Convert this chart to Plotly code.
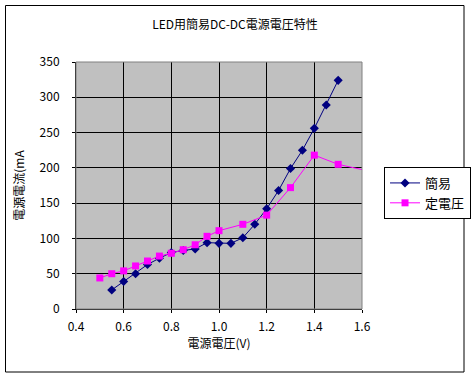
import plotly.graph_objects as go

title_text = "LED用簡易DC-DC電源電圧特性"
x_title = "電源電圧(V)"
y_title = "電源電流(mA"

kan_v = [0.55, 0.6, 0.65, 0.7, 0.75, 0.8, 0.85, 0.9, 0.95, 1.0, 1.05, 1.1, 1.15, 1.2, 1.25, 1.3, 1.35, 1.4, 1.45, 1.5]
kan_ma = [27, 39, 50, 63, 72, 80, 83, 85, 94, 93, 93, 101, 120, 142, 168, 199, 225, 256, 289, 324]

tei_v = [0.5, 0.55, 0.6, 0.65, 0.7, 0.75, 0.8, 0.85, 0.9, 0.95, 1.0, 1.1, 1.2, 1.3, 1.4, 1.5, 1.7]
tei_ma = [44, 50, 54, 61, 68, 75, 79, 84, 91, 103, 111, 120, 133, 172, 218, 205, 190]

FONT = "Noto Sans CJK JP, Liberation Sans, sans-serif"

fig = go.Figure()
fig.add_trace(go.Scatter(
    x=kan_v, y=kan_ma, name="簡易", mode="lines+markers",
    line=dict(color="#000080", width=1),
    marker=dict(symbol="diamond", size=7, color="#000080"),
))
fig.add_trace(go.Scatter(
    x=tei_v, y=tei_ma, name="定電圧", mode="lines+markers",
    line=dict(color="#FF00FF", width=1),
    marker=dict(symbol="square", size=7, color="#FF00FF"),
))

fig.update_layout(
    width=471, height=378,
    margin=dict(l=76, r=109, t=62, b=69, autoexpand=False),
    paper_bgcolor="white",
    plot_bgcolor="#C0C0C0",
    font=dict(family=FONT, size=12, color="black"),
    title=dict(text=title_text, x=235 / 471, xanchor="center",
               y=1 - 25 / 378, yanchor="middle", font=dict(size=12)),
    legend=dict(x=1.077, y=0.575, xanchor="left", yanchor="top",
                bordercolor="black", borderwidth=1, bgcolor="white",
                font=dict(size=13), tracegroupgap=0, itemwidth=30),
    showlegend=True,
)
fig.update_xaxes(
    range=[0.4, 1.6], dtick=0.2, tick0=0.4, tickformat=".1f",
    showgrid=True, gridcolor="black", gridwidth=1,
    showline=True, linecolor="black", linewidth=1, mirror=False,
    ticks="outside", ticklen=3, tickcolor="black",
    ticklabelstandoff=4,
    zeroline=False,
    title=dict(text=x_title, standoff=6, font=dict(size=12)),
)
fig.update_yaxes(
    range=[0, 350], dtick=50,
    showgrid=True, gridcolor="black", gridwidth=1,
    showline=True, linecolor="black", linewidth=1,
    ticks="outside", ticklen=3, tickcolor="black",
    ticklabelstandoff=10,
    zeroline=False,
    title=dict(text=y_title, standoff=12, font=dict(size=12)),
)
# plot-area frame (top/right in gray)
fig.add_shape(type="rect", xref="paper", yref="paper", x0=0, y0=0, x1=1, y1=1,
              line=dict(color="#808080", width=1), layer="above")
# outer chart border
fig.add_shape(type="rect", xref="paper", yref="paper",
              x0=(5.5 - 76) / 286, x1=(464 - 76) / 286,
              y0=(309 - 372) / 247, y1=(309 - 5.5) / 247,
              line=dict(color="black", width=1))

fig.write_html("out.html", config={"displayModeBar": False},
               post_script="document.body.style.margin='0';")
